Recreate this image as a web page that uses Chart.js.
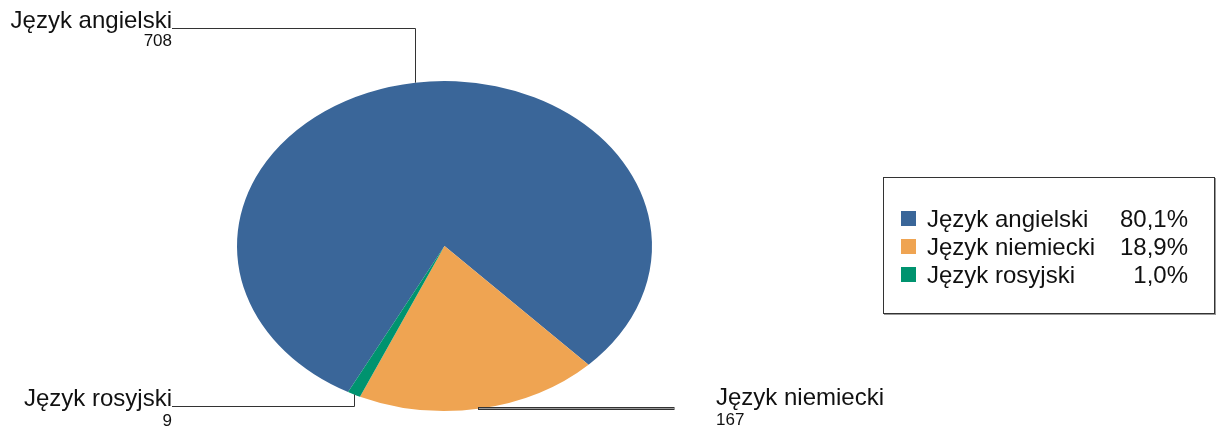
<!DOCTYPE html>
<html><head><meta charset="utf-8">
<script src="https://cdn.jsdelivr.net/npm/chart.js@4.4.1/dist/chart.umd.min.js"></script>
<style>
html,body{margin:0;padding:0;background:#fff;}
#wrap{position:relative;width:1219px;height:430px;overflow:hidden;}
#c{position:absolute;left:0;top:0;}
#legend{position:absolute;left:883px;top:177px;width:332px;height:137px;border:1px solid #333;box-shadow:1px 1px 0 #999;box-sizing:border-box;font-family:"Liberation Sans",Arial,sans-serif;font-size:24px;color:#111;}
.row{position:absolute;left:0;width:100%;height:28px;line-height:28px;white-space:nowrap;}
.sw{position:absolute;left:17px;top:6px;width:15px;height:15px;}
.lt{position:absolute;left:43px;top:0;}
.pc{position:absolute;right:26px;top:0;}
</style></head>
<body>
<div id="wrap">
<canvas id="c" width="1219" height="430"></canvas>
<div id="legend"></div>
</div>
<script>
const categories = ['Język angielski', 'Język niemiecki', 'Język rosyjski'];
const counts = [708, 167, 9];
const colors = ['#3A6699', '#EFA452', '#00936F'];

const total = counts.reduce((a, b) => a + b, 0);
const pct = counts.map(v => (v / total * 100).toFixed(1).replace('.', ',') + '%');

// legend (HTML)
const lg = document.getElementById('legend');
categories.forEach((name, i) => {
  const r = document.createElement('div');
  r.className = 'row';
  r.style.top = (26.5 + i * 28.3) + 'px';
  r.innerHTML = '<span class="sw" style="background:' + colors[i] + '"></span><span class="lt">' + name + '</span><span class="pc">' + pct[i] + '</span>';
  lg.appendChild(r);
});

const ELL = { cy: 246, ry: 165 };
const labelCfg = [
  { side: 'left', lineY: 28.5, textX: 172, nameY: 28, numY: 46, font: 24 },
  { side: 'right', lineY: null, endX: 674, textX: 716, nameY: 405, numY: 425, font: 24 },
  { side: 'left', lineY: 406.5, textX: 172, nameY: 406, numY: 426, font: 24 }
];

const ellipsePlugin = {
  id: 'ellipse',
  beforeDatasetsDraw(chart) {
    const arc = chart.getDatasetMeta(0).data[0];
    const ctx = chart.ctx;
    ctx.save();
    ctx.translate(arc.x, ELL.cy);
    ctx.scale(1, ELL.ry / arc.outerRadius);
    ctx.translate(-arc.x, -arc.y);
  },
  afterDatasetsDraw(chart) {
    chart.ctx.restore();
    const ctx = chart.ctx;
    const meta = chart.getDatasetMeta(0);
    ctx.save();
    ctx.strokeStyle = '#333';
    ctx.lineWidth = 1;
    ctx.fillStyle = '#111';
    meta.data.forEach((arc, i) => {
      const a = (arc.startAngle + arc.endAngle) / 2;
      const ax = arc.x + arc.outerRadius * Math.cos(a);
      const ay = ELL.cy + ELL.ry * Math.sin(a);
      const cfg = labelCfg[i];
      const vx = Math.round(ax) + 0.5;
      if (cfg.side === 'left') {
        ctx.beginPath();
        ctx.moveTo(vx, ay);
        ctx.lineTo(vx, cfg.lineY);
        ctx.lineTo(cfg.textX, cfg.lineY);
        ctx.stroke();
        ctx.textAlign = 'right';
        ctx.textBaseline = 'alphabetic';
        ctx.font = cfg.font + 'px "Liberation Sans", Arial, sans-serif';
        ctx.fillText(categories[i], cfg.textX, cfg.nameY);
        ctx.font = '17px "Liberation Sans", Arial, sans-serif';
        ctx.fillText(String(counts[i]), cfg.textX, cfg.numY);
      } else {
        const y0 = Math.round(ay) - 1.5;
        ctx.fillStyle = '#999';
        ctx.fillRect(vx - 2, y0, cfg.endX - vx + 2, 2);
        ctx.strokeRect(vx - 2, y0, cfg.endX - vx + 2, 2);
        ctx.fillStyle = '#111';
        ctx.textAlign = 'left';
        ctx.textBaseline = 'alphabetic';
        ctx.font = cfg.font + 'px "Liberation Sans", Arial, sans-serif';
        ctx.fillText(categories[i], cfg.textX, cfg.nameY);
        ctx.font = '17px "Liberation Sans", Arial, sans-serif';
        ctx.fillText(String(counts[i]), cfg.textX, cfg.numY);
      }
    });
    ctx.restore();
  }
};

new Chart(document.getElementById('c'), {
  type: 'pie',
  data: {
    labels: categories,
    datasets: [{ data: counts, backgroundColor: colors, borderWidth: 0, hoverOffset: 0 }]
  },
  options: {
    responsive: false,
    animation: false,
    devicePixelRatio: 1,
    rotation: 207.7,
    layout: { padding: { left: 237, right: 567, top: 0, bottom: 0 } },
    plugins: { legend: { display: false }, tooltip: { enabled: false } },
    events: []
  },
  plugins: [ellipsePlugin]
});
</script>
</body></html>
